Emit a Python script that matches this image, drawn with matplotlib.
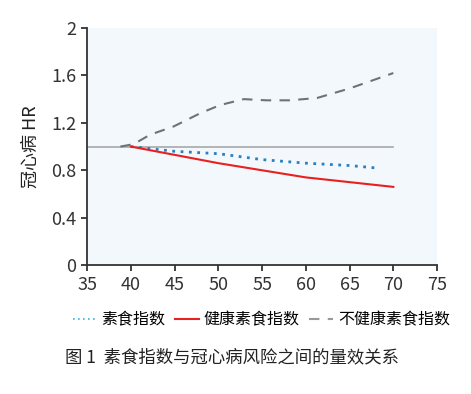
import matplotlib
matplotlib.use("Agg")
import matplotlib.pyplot as plt

plt.rcParams['font.family'] = ['Noto Sans CJK SC', 'DejaVu Sans']

# values
veg_x = [40, 45, 50, 55, 60, 65, 68]
veg_hr = [1.0, 0.96, 0.94, 0.89, 0.86, 0.84, 0.82]

healthy_x = [40, 45, 50, 55, 60, 65, 70]
healthy_hr = [1.0, 0.93, 0.86, 0.80, 0.74, 0.70, 0.66]

unhealthy_x = [38.8, 40.3, 42.2, 44.9, 47.9, 50.2, 52.9, 55.5, 58.2, 61.3, 65, 70]
unhealthy_hr = [1.0, 1.02, 1.10, 1.17, 1.28, 1.35, 1.40, 1.39, 1.39, 1.41, 1.49, 1.62]

ref_x = [35, 70]
ref_hr = [1.0, 1.0]

x_ticks = [35, 40, 45, 50, 55, 60, 65, 70, 75]
y_ticks = [0, 0.4, 0.8, 1.2, 1.6, 2]
y_tick_labels = ['0', '0.4', '0.8', '1.2', '1.6', '2']

fig = plt.figure(figsize=(4.71, 3.94), dpi=100)
ax = fig.add_axes([0.185, 0.327, 0.743, 0.602])
ax.set_facecolor('#f3f8fc')

ax.plot(ref_x, ref_hr, color='#a8a8a8', lw=1.2, zorder=1)
ax.plot(veg_x, veg_hr, color='#2a7fc0', lw=2, linestyle=(0, (1, 2)),
        label='素食指数', zorder=3)
ax.plot(healthy_x, healthy_hr, color='#e8201f', lw=1.5,
        label='健康素食指数', zorder=3)
ax.plot(unhealthy_x, unhealthy_hr, color='#6d737a', lw=1.5,
        linestyle=(0, (5, 4)), label='不健康素食指数', zorder=3)

ax.set_xlim(35, 75)
ax.set_ylim(0, 2)
ax.set_xticks(x_ticks)
ax.set_yticks(y_ticks)
ax.set_yticklabels(y_tick_labels)
ax.tick_params(axis='both', labelsize=13, colors='#333333', length=4,
               width=1.3, direction='out', pad=4)
for side in ['top', 'right']:
    ax.spines[side].set_visible(False)
for side in ['left', 'bottom']:
    ax.spines[side].set_color('#333333')
    ax.spines[side].set_linewidth(1.3)

ax.set_ylabel('冠心病 HR', fontsize=13, color='#222222', labelpad=8)

handles, labels = ax.get_legend_handles_labels()
leg = fig.legend(handles, labels, loc='center', bbox_to_anchor=(0.555, 0.188),
                 ncol=3, frameon=False, fontsize=11.5, handlelength=1.5,
                 handletextpad=0.3, columnspacing=0.6)
leg.legend_handles[0].set_color('#33b5e8')
leg.legend_handles[0].set_linewidth(1.2)
leg.legend_handles[2].set_color('#999999')

fig.text(0.138, 0.092, '图 1  素食指数与冠心病风险之间的量效关系', fontsize=12.5,
         color='#222222', va='center', ha='left')

fig.savefig('out.png', dpi=100)
